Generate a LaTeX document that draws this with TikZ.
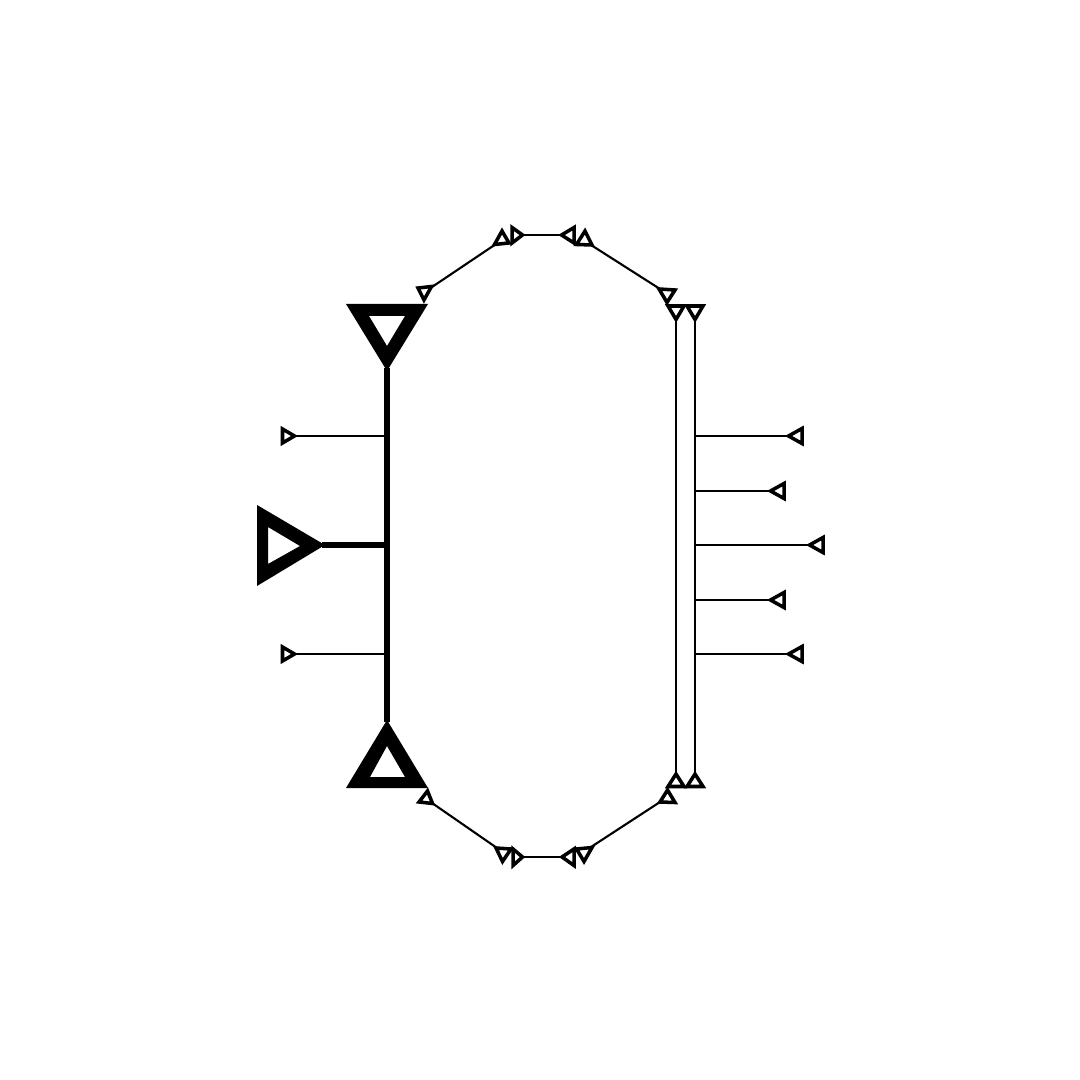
\documentclass[tikz,border=0pt]{standalone}
\begin{document}
\begin{tikzpicture}[x=0.01cm,y=-0.01cm,
  thin line/.style={line width=0.6pt},
  thick line/.style={line width=1.8pt},
  smalltri/.style={draw, line width=1pt, line join=miter},
  bigtri/.style={fill=black, even odd rule}]
\useasboundingbox (0,0) rectangle (1080,1080);
% ---- coordinates ----
\coordinate (Ltop) at (387,368);
\coordinate (Lbot) at (387,722);
\coordinate (Lmid) at (387,545);
\coordinate (Lmidtip) at (322,545);
\coordinate (La) at (387,436);
\coordinate (Latip) at (295,436);
\coordinate (Lb) at (387,654);
\coordinate (Lbtip) at (295,654);
\coordinate (TL1) at (432,287);
\coordinate (TL2) at (496,244);
\coordinate (TM1) at (522,235);
\coordinate (TM2) at (562,235);
\coordinate (TR1) at (591,245);
\coordinate (TR2) at (660,289);
\coordinate (BL1) at (432,803);
\coordinate (BL2) at (497,848);
\coordinate (BM1) at (523,857);
\coordinate (BM2) at (562,857);
\coordinate (BR1) at (591,847);
\coordinate (BR2) at (660,802);
\coordinate (Va1) at (676,319);
\coordinate (Va2) at (676,774);
\coordinate (Vb1) at (695,319);
\coordinate (Vb2) at (695,774);
\coordinate (R1) at (695,436);
\coordinate (R1t) at (789,436);
\coordinate (R2) at (695,491);
\coordinate (R2t) at (771,491);
\coordinate (R3) at (695,545);
\coordinate (R3t) at (810,545);
\coordinate (R4) at (695,600);
\coordinate (R4t) at (771,600);
\coordinate (R5) at (695,654);
\coordinate (R5t) at (789,654);
% ---- connectors ----
\draw[thick line] (Ltop) -- (Lbot);
\draw[thick line] (Lmidtip) -- (Lmid);
\draw[thin line] (Latip) -- (La);
\draw[thin line] (Lbtip) -- (Lb);
\draw[thin line] (TL1) -- (TL2);
\draw[thin line] (TM1) -- (TM2);
\draw[thin line] (TR1) -- (TR2);
\draw[thin line] (BL1) -- (BL2);
\draw[thin line] (BM1) -- (BM2);
\draw[thin line] (BR1) -- (BR2);
\draw[thin line] (Va1) -- (Va2);
\draw[thin line] (Vb1) -- (Vb2);
\foreach \a/\b in {R1/R1t,R2/R2t,R3/R3t,R4/R4t,R5/R5t}
  \draw[thin line] (\a) -- (\b);
% ---- big triangles ----
\fill[bigtri] (346,304) -- (428,304) -- (387,371) -- cycle
              (369,316) -- (405,316) -- (387,346) -- cycle;
\fill[bigtri] (346,788) -- (428,788) -- (387,720) -- cycle
              (370,777) -- (405,777) -- (387,746) -- cycle;
\fill[bigtri] (257,505) -- (257,586) -- (325,545) -- cycle
              (268,527) -- (268,564) -- (300,546) -- cycle;
% ---- small triangles ----
\draw[smalltri] (282.5,429) -- (282.5,443) -- (294.5,436) -- cycle;
\draw[smalltri] (282.5,647) -- (282.5,661) -- (294.5,654) -- cycle;
\foreach \y/\t/\b in {436/788.5/802, 491/770.5/784, 545/809.5/823, 600/770.5/784, 654/788.5/802}
  \draw[smalltri] (\b,\y-7.5) -- (\b,\y+7.5) -- (\t,\y) -- cycle;
% top chain
\draw[smalltri] (418,288) -- (431.5,286.5) -- (424,300) -- cycle;
\draw[smalltri] (494.5,244.5) -- (509,243) -- (502,231) -- cycle;
\draw[smalltri] (512,227.5) -- (512,243) -- (522.5,235) -- cycle;
\draw[smalltri] (574,227.5) -- (574,243) -- (561.5,235) -- cycle;
\draw[smalltri] (576.5,244.5) -- (592,245) -- (585,231) -- cycle;
\draw[smalltri] (659,289) -- (675,290) -- (667,302.5) -- cycle;
\draw[smalltri] (668,306) -- (684,306) -- (676,319.5) -- cycle;
\draw[smalltri] (687,306) -- (703,306) -- (695,319.5) -- cycle;
% bottom chain
\draw[smalltri] (427.5,791) -- (419,802) -- (432.5,803.5) -- cycle;
\draw[smalltri] (496,848) -- (511,849) -- (502.5,861.5) -- cycle;
\draw[smalltri] (513,849) -- (513,865.5) -- (522.5,857) -- cycle;
\draw[smalltri] (574,849) -- (574,865.5) -- (562,857) -- cycle;
\draw[smalltri] (576.5,849) -- (592,847.5) -- (584,861.5) -- cycle;
\draw[smalltri] (667.5,790) -- (660,802) -- (675,802.5) -- cycle;
\draw[smalltri] (676,774) -- (668,786.5) -- (684,786.5) -- cycle;
\draw[smalltri] (695,774) -- (687,786.5) -- (703,786.5) -- cycle;
\end{tikzpicture}
\end{document}
